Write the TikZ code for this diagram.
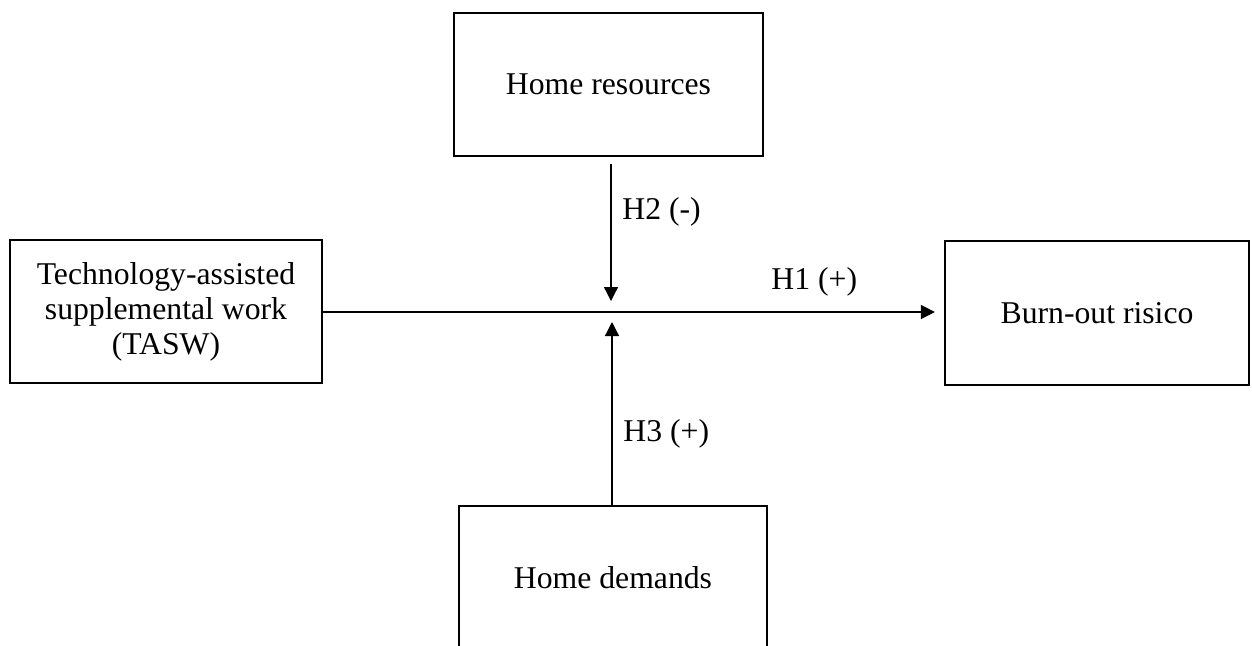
\documentclass[tikz,border=0pt]{standalone}
\usepackage{fontspec}
\setmainfont{Liberation Serif}
\usetikzlibrary{arrows.meta}
\begin{document}
\begin{tikzpicture}[x=0.5pt,y=-0.5pt,
  box/.style={draw=black,line width=1.1pt,rectangle,inner sep=0pt,align=center,
    font=\fontsize{15.85pt}{17.5pt}\selectfont},
  arr/.style={draw=black,line width=0.65pt,-{Triangle[length=7pt,width=7pt]}},
  lbl/.style={inner sep=0pt,anchor=base west,font=\fontsize{15.85pt}{17.5pt}\selectfont}]
\useasboundingbox (0,0) rectangle (1252,645);
\node[box,minimum width=154.5pt,minimum height=71.5pt] (res) at (608.5,84.5) {Home resources};
\node[box,minimum width=156pt,minimum height=71.5pt] (tasw) at (166,311.5) {Technology-assisted\\supplemental work\\(TASW)};
\node[box,minimum width=152pt,minimum height=72pt] (burn) at (1097,313) {Burn-out risico};
\node[box,minimum width=154pt,minimum height=71.5pt] (dem) at (613,577.5) {Home demands};
\coordinate (mid) at (611,312);
\coordinate (dtip) at (611,301);
\coordinate (utip) at (612,322);
\draw[arr,shorten >=4.5pt] (tasw.east |- mid) -- (burn.west |- mid);
\draw[arr] ([yshift=-3.5pt]res.south -| dtip) -- (dtip);
\draw[arr] (dem.north -| utip) -- (utip);
\node[lbl] (h2) at (622,219) {H2 (-)};
\node[lbl] (h1) at (771,289) {H1 (+)};
\node[lbl] (h3) at (623,441) {H3 (+)};
\end{tikzpicture}
\end{document}
